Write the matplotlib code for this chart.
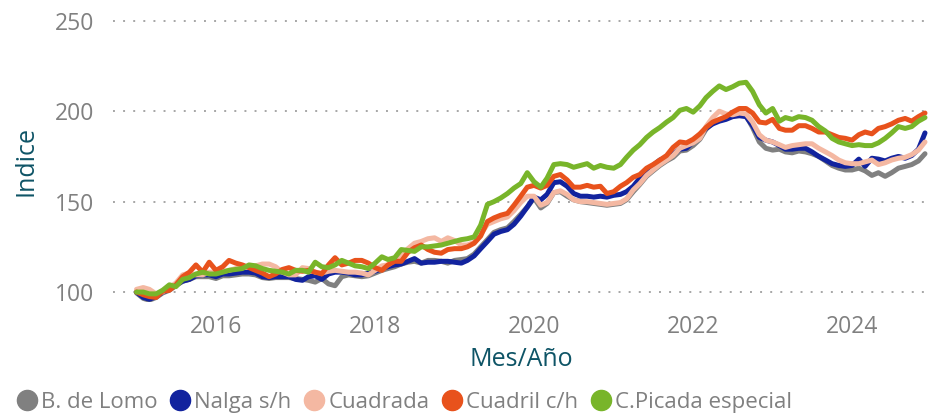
import matplotlib
matplotlib.use("Agg")
import matplotlib.pyplot as plt
import matplotlib.dates as mdates
from matplotlib.lines import Line2D
import pandas as pd

dates = pd.date_range("2015-01-01", "2024-12-01", freq="MS")

series_names = ["B. de Lomo", "Nalga s/h", "Cuadrada", "Cuadril c/h", "C.Picada especial"]
colors = ["#808080", "#12239E", "#F4B8A2", "#E8521C", "#78B52A"]

b_de_lomo = [
    99.5, 96.5, 95.5, 97, 99.5, 101, 103.5, 106, 107, 108.5, 108.5, 108.5,
    107.5, 109, 109, 109.5, 110, 110, 109.5, 108, 107.5, 108, 108, 108,
    107.5, 107, 106.5, 105.5, 107.5, 104.5, 103.5, 108.5, 109.5, 109, 108.5, 109,
    110.5, 112, 113, 114, 115.5, 116.5, 117, 116, 117.5, 117.5, 117, 116,
    117.5, 118, 118.5, 121, 125, 129, 133, 134.5, 135.5, 139, 143, 147,
    152, 146.5, 149, 155, 155.5, 153, 151, 150, 149.5, 149, 148.5, 148,
    148.5, 149, 151, 155.5, 159.5, 164, 167, 170, 172.5, 174.5, 178, 178.5,
    181, 184.5, 190, 193.5, 195, 196, 197.5, 198, 197.5, 191, 183, 179.5,
    178.5, 179, 177.5, 177, 178, 177.5, 176.5, 175, 172.5, 170, 168.5, 167.5,
    167.5, 168.5, 167, 164.5, 166, 164, 166, 168.5, 169.5, 170.5, 172.5, 176.5,
]
nalga = [
    100, 97, 96, 97.5, 100, 101.5, 104, 106, 107, 109, 109.5, 109.5,
    108.5, 110, 110, 110.5, 111, 111, 110.5, 108.5, 108, 108.5, 108.5, 108.5,
    107, 106.5, 108.5, 109, 107, 110, 111, 111, 110.5, 109.5, 109.5, 110.5,
    111.5, 113, 114, 115, 115.5, 117, 118.5, 116, 116.5, 116.5, 117, 117,
    116.5, 116, 117.5, 120, 124, 128, 132, 133.5, 134.5, 137.5, 142, 147,
    152.5, 151, 154, 160.5, 161, 158.5, 154.5, 153, 153, 152.5, 153, 152.5,
    153.5, 154, 155.5, 158.5, 163, 166.5, 170, 173, 174.5, 176.5, 179, 179.5,
    183, 187, 190.5, 193, 194.5, 195.5, 197, 197.5, 197, 192, 185.5, 184,
    183, 181, 179, 179, 179.5, 179.5, 177.5, 175, 173, 171, 170, 169.5,
    170, 173.5, 169.5, 174, 173.5, 172.5, 174, 175, 174, 175.5, 179, 188,
]
cuadrada = [
    101.5, 102.5, 101.5, 99, 100, 102.5, 105, 109.5, 110.5, 109.5, 109.5, 111,
    111, 111.5, 112, 113, 113.5, 114, 114.5, 115.5, 115.5, 114, 111, 109.5,
    109.5, 113.5, 113, 111, 110.5, 111.5, 112, 111.5, 111, 111, 110.5, 109.5,
    112, 114.5, 115, 117.5, 120.5, 124, 127, 128, 129.5, 130, 128, 130,
    128.5, 126, 126, 127.5, 132, 137.5, 139, 140.5, 141.5, 145, 149.5, 153,
    153, 148, 149.5, 155, 156, 154, 151, 150, 150, 149.5, 149, 148.5,
    149, 149.5, 151.5, 156.5, 160, 164.5, 167.5, 170.5, 173, 175.5, 179.5, 181,
    182.5, 185, 191.5, 196.5, 200, 198.5, 198, 199, 198.5, 194, 187, 184,
    183, 181.5, 180, 181, 181.5, 182, 182, 179.5, 177.5, 175.5, 173, 171.5,
    171, 171, 172, 173, 170.5, 171.5, 173, 174, 174.5, 176, 178.5, 183,
]
cuadril = [
    100, 98.5, 97.5, 97, 100.5, 101, 104, 108.5, 111, 115, 111, 116.5,
    112, 114, 117.5, 116, 115, 113.5, 112, 110.5, 108.5, 110, 112.5, 113.5,
    112, 111.5, 112, 111, 110, 115, 119, 115, 116, 117.5, 117.5, 116,
    113.5, 112, 115, 117, 117, 122, 124.5, 126, 123.5, 122, 121.5, 123.5,
    124, 124, 125, 127, 131, 139, 141, 142.5, 143.5, 148, 153, 158,
    159, 157.5, 159, 164, 165, 162, 158, 158, 159, 158, 158.5, 154.5,
    155.5, 158.5, 160.5, 163.5, 165, 168.5, 170.5, 173, 175.5, 180, 183, 182.5,
    184.5, 187.5, 191, 194, 195.5, 197, 199.5, 201.5, 201.5, 199, 194, 193.5,
    195.5, 190.5, 189.5, 189.5, 192, 192, 190.5, 188.5, 188.5, 187, 185.5, 185,
    184, 187, 188.5, 187.5, 190.5, 191.5, 193, 195, 196, 194.5, 197, 199,
]
picada = [
    100, 100, 99, 99, 101, 104, 103, 107, 108, 110, 111, 110,
    110, 111, 112, 112.5, 113, 115, 114.5, 113, 112, 111.5, 111, 110,
    112, 112, 111, 116.5, 114, 113.5, 115, 117.5, 116, 114.5, 114, 113,
    116, 119.5, 118, 119, 123.5, 123, 122.5, 125, 125, 125.5, 126, 127,
    128, 129, 129.5, 130.5, 137, 148.5, 150, 152, 154.5, 157.5, 160, 166,
    161, 158, 163, 170.5, 171, 170.5, 169, 170, 171, 168.5, 170, 169,
    168.5, 170.5, 174.5, 178.5, 181.5, 185.5, 188.5, 191, 194, 196.5, 200.5, 201.5,
    199.5, 203, 207.5, 211, 214, 212, 213.5, 215.5, 216, 211, 203.5, 199,
    201.5, 194.5, 196.5, 195.5, 197, 196.5, 195, 191.5, 189, 185, 183, 182,
    181, 181.5, 181, 181, 182.5, 185, 188, 191.5, 190.5, 191.5, 194.5, 196.5,
]

all_series = [b_de_lomo, nalga, cuadrada, cuadril, picada]

y_ticks = [100, 150, 200, 250]
x_tick_years = [2016, 2018, 2020, 2022, 2024]

plt.rcParams["font.family"] = ["Open Sans", "DejaVu Sans"]

fig = plt.figure(figsize=(9.30, 4.15), dpi=100)
W, H = 930, 415
ax = fig.add_axes([113 / W, 1 - 302 / H, (930 - 113) / W, (302 - 19) / H])

for vals, col, name in zip(all_series, colors, series_names):
    ax.plot(dates, vals, color=col, lw=3.6, solid_joinstyle="round",
            solid_capstyle="round", label=name, zorder=3)

ax.set_ylim(94.5, 251)
ax.set_xlim(pd.Timestamp("2014-09-15"), pd.Timestamp("2024-12-24"))
ax.set_yticks(y_ticks)
ax.set_xticks([pd.Timestamp(f"{y}-01-01") for y in x_tick_years])
ax.xaxis.set_major_formatter(mdates.DateFormatter("%Y"))

ax.grid(axis="y", color="#A6A6A6", lw=1.4, linestyle=(0, (1, 4.2)), zorder=0)
ax.grid(axis="x", visible=False)
for s in ax.spines.values():
    s.set_visible(False)
ax.tick_params(axis="both", length=0, labelsize=16.5, labelcolor="#808080")
ax.tick_params(axis="y", pad=13.5)
ax.tick_params(axis="x", pad=9)

ax.set_ylabel("Indice", fontsize=18, color="#0E5466", labelpad=12)
ax.set_xlabel("Mes/Año", fontsize=18, color="#0E5466", labelpad=6)

handles = [Line2D([], [], marker="o", linestyle="none", markersize=14.5,
                  markerfacecolor=c, markeredgecolor=c) for c in colors]
fig.legend(handles, series_names, loc="center left",
           bbox_to_anchor=(16 / W, 1 - 402 / H),
           ncol=5, frameon=False, fontsize=16, labelcolor="#808080",
           handlelength=0.95, handletextpad=0.16, columnspacing=0.55,
           borderaxespad=0.0, borderpad=0.0)

fig.savefig("out.png", dpi=100)
